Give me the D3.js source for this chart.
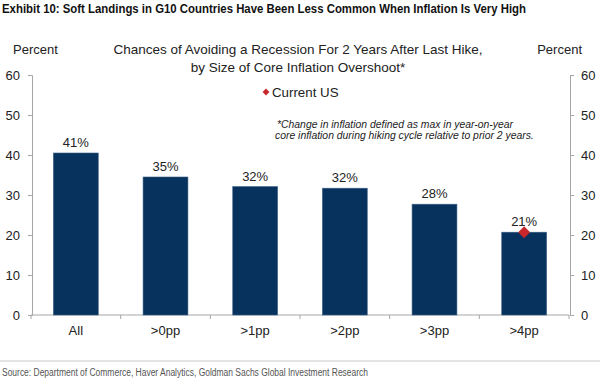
<!DOCTYPE html>
<html>
<head>
<meta charset="utf-8">
<script src="https://cdn.jsdelivr.net/npm/d3@7/dist/d3.min.js"></script>
<style>
  body { margin: 0; background: #fff; }
  svg { display: block; font-family: "Liberation Sans", Arial, sans-serif; }
  .narrow { font-family: "Liberation Sans Narrow", "Arial Narrow", "Liberation Sans", sans-serif; }
</style>
</head>
<body>
<svg id="chart" width="600" height="381"></svg>
<script>
// chart data
const categories = ['All', '>0pp', '>1pp', '>2pp', '>3pp', '>4pp'];
const values = [40.5, 34.5, 32.1, 31.7, 27.7, 20.7];
const barLabels = ['41%', '35%', '32%', '32%', '28%', '21%'];
const currentUS = [{cat: '>4pp', value: 20.7}];
const yTicks = [0, 10, 20, 30, 40, 50, 60];

const barColor = '#06325d';
const red = '#c8282c';
const axisColor = '#a6a6a6';

const svg = d3.select('#chart');

const x = d3.scaleBand()
  .domain(categories)
  .range([31, 569])
  .paddingInner(0.5)
  .paddingOuter(0.25);

const y = d3.scaleLinear()
  .domain([0, 60])
  .range([315, 75]);

// title
svg.append('text')
  .attr('class', 'narrow')
  .attr('x', 2).attr('y', 13)
  .attr('font-size', 13).attr('font-weight', 'bold')
  .attr('fill', '#111')
  .attr('textLength', 524).attr('lengthAdjust', 'spacingAndGlyphs')
  .text('Exhibit 10: Soft Landings in G10 Countries Have Been Less Common When Inflation Is Very High');

// axis titles
svg.append('text').attr('x', 13).attr('y', 54).attr('font-size', 13).attr('fill', '#222').text('Percent');
svg.append('text').attr('x', 582).attr('y', 54).attr('font-size', 13).attr('fill', '#222')
  .attr('text-anchor', 'end').text('Percent');

// chart title
const subtitle = svg.append('text').attr('font-size', 13.5).attr('fill', '#222').attr('text-anchor', 'middle');
subtitle.append('tspan').attr('x', 298).attr('y', 54).text('Chances of Avoiding a Recession For 2 Years After Last Hike,');
subtitle.append('tspan').attr('x', 298).attr('y', 72).text('by Size of Core Inflation Overshoot*');

// axes
const leftAxis = svg.append('g')
  .attr('transform', 'translate(32,0)')
  .call(d3.axisLeft(y).tickValues(yTicks).tickSize(4).tickPadding(8));
const rightAxis = svg.append('g')
  .attr('transform', 'translate(570,0)')
  .call(d3.axisRight(y).tickValues(yTicks).tickSize(4).tickPadding(7));

[leftAxis, rightAxis].forEach(g => {
  g.select('.domain').attr('stroke', axisColor);
  g.selectAll('.tick line').attr('stroke', axisColor);
  g.selectAll('.tick text')
    .attr('font-size', 13).attr('fill', '#222')
    .attr('font-family', '"Liberation Sans", Arial, sans-serif');
});

// bottom axis: line with ticks at category boundaries
const bottom = svg.append('g');
bottom.append('line')
  .attr('x1', x.range()[0]).attr('x2', x.range()[1])
  .attr('y1', y(0)).attr('y2', y(0))
  .attr('stroke', axisColor);
const bounds = categories.map(c => x(c) - x.step() * x.paddingOuter())
  .concat([x.range()[1]]);
bottom.selectAll('.btick')
  .data(bounds)
  .enter().append('line')
  .attr('x1', d => d).attr('x2', d => d)
  .attr('y1', y(0)).attr('y2', y(0) + 4)
  .attr('stroke', axisColor);
bottom.selectAll('.blabel')
  .data(categories)
  .enter().append('text')
  .attr('x', d => x(d) + x.bandwidth() / 2)
  .attr('y', 335)
  .attr('text-anchor', 'middle')
  .attr('font-size', 13).attr('fill', '#222')
  .text(d => d);

// bars
svg.append('g').selectAll('rect')
  .data(categories)
  .enter().append('rect')
  .attr('x', d => x(d))
  .attr('y', (d, i) => y(values[i]))
  .attr('width', x.bandwidth())
  .attr('height', (d, i) => y(0) - y(values[i]))
  .attr('fill', barColor)
  .attr('stroke', '#3a5f85').attr('stroke-width', 0.6);

svg.append('g').selectAll('text')
  .data(categories)
  .enter().append('text')
  .attr('x', d => x(d) + x.bandwidth() / 2)
  .attr('y', (d, i) => y(values[i]) - 6)
  .attr('text-anchor', 'middle')
  .attr('font-size', 13).attr('fill', '#222')
  .text((d, i) => barLabels[i]);

// current US marker
const diamond = d3.symbol().type(d3.symbolDiamond2).size(90);
svg.append('g').selectAll('path')
  .data(currentUS)
  .enter().append('path')
  .attr('d', diamond)
  .attr('transform', d => `translate(${x(d.cat) + x.bandwidth() / 2},${y(d.value)})`)
  .attr('fill', red);

// legend
svg.append('path')
  .attr('d', d3.symbol().type(d3.symbolDiamond2).size(30))
  .attr('transform', 'translate(266,92)')
  .attr('fill', red);
svg.append('text').attr('x', 272).attr('y', 97).attr('font-size', 13.3).attr('fill', '#222').text('Current US');

// footnote
const note = svg.append('text').attr('font-size', 10.4).attr('font-style', 'italic').attr('fill', '#222');
note.append('tspan').attr('x', 277).attr('y', 128).text('*Change in inflation defined as max in year-on-year');
note.append('tspan').attr('x', 275).attr('y', 139).text('core inflation during hiking cycle relative to prior 2 years.');

// source line
svg.append('line')
  .attr('x1', 0).attr('x2', 600).attr('y1', 361).attr('y2', 361)
  .attr('stroke', '#c8c8c8');
svg.append('text')
  .attr('class', 'narrow')
  .attr('x', 2).attr('y', 376)
  .attr('font-size', 10).attr('fill', '#555')
  .attr('textLength', 366).attr('lengthAdjust', 'spacingAndGlyphs')
  .text('Source: Department of Commerce, Haver Analytics, Goldman Sachs Global Investment Research');
</script>
</body>
</html>
